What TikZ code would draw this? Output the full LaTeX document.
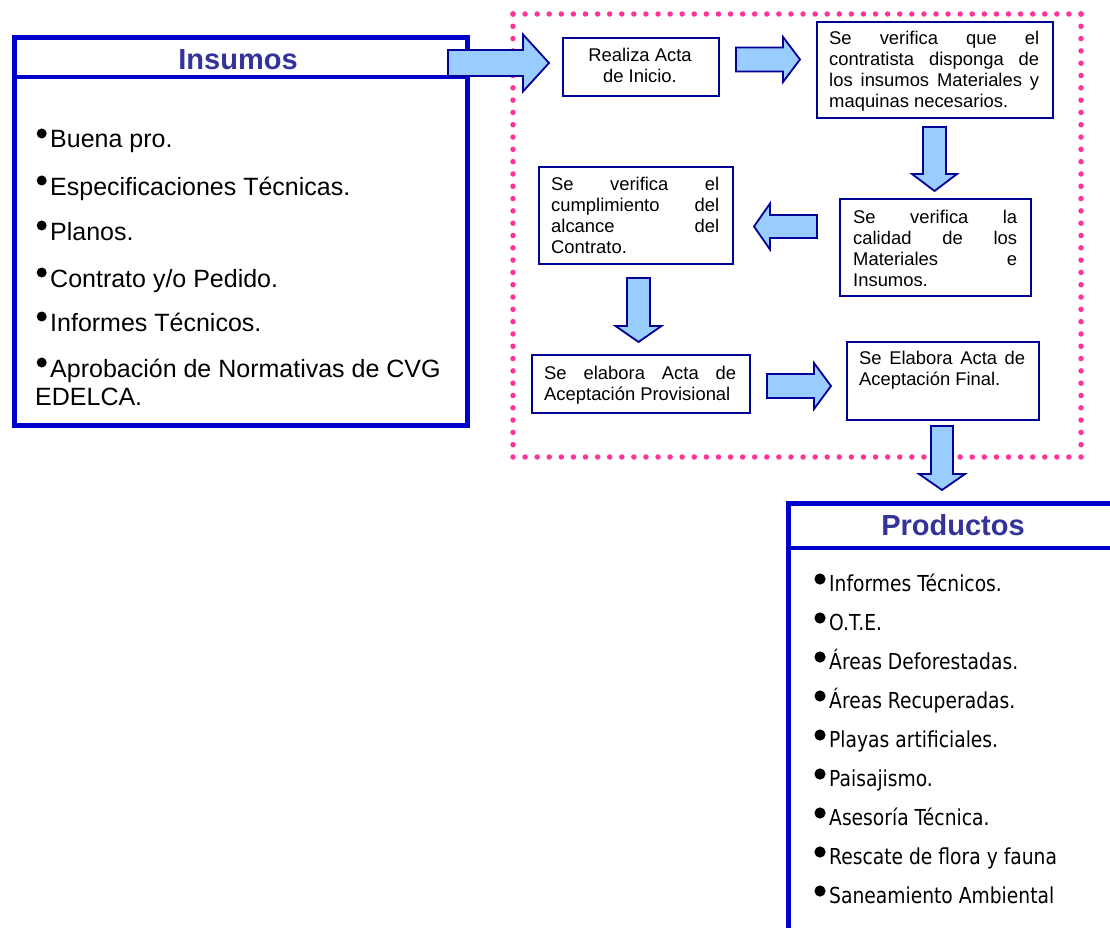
\documentclass[tikz,border=0pt]{standalone}
\usepackage{fontspec}
\setmainfont{Liberation Sans}
\newfontfamily\prodfont[FakeStretch=0.85]{DejaVu Sans}
\definecolor{navy}{RGB}{0,0,150}
\definecolor{bigblue}{RGB}{0,0,204}
\definecolor{titleblue}{RGB}{51,51,153}
\definecolor{arrowfill}{RGB}{153,204,255}
\definecolor{dotpink}{RGB}{255,51,153}
\newcommand\jline[2]{\makebox[#1][s]{#2}}
\newcommand\blkH[6]{\draw[blockarrow] (#1,#4-#5) -- (#2,#4-#5) -- (#2,#4-#6) -- (#3,#4) -- (#2,#4+#6) -- (#2,#4+#5) -- (#1,#4+#5) -- cycle;}
\newcommand\blkV[6]{\draw[blockarrow] (#4-#5,#1) -- (#4-#5,#2) -- (#4-#6,#2) -- (#4,#3) -- (#4+#6,#2) -- (#4+#5,#2) -- (#4+#5,#1) -- cycle;}
\begin{document}
\begin{tikzpicture}[x=1pt,y=-1pt,
  box/.style={draw=navy, line width=2pt, fill=white, inner sep=0pt, anchor=north west},
  bigframe/.style={draw=bigblue, line width=5pt, inner sep=0pt, anchor=north west},
  titletext/.style={font=\bfseries\fontsize{29}{34}\selectfont, text=titleblue, inner sep=0pt, anchor=base},
  initem/.style={font=\fontsize{25}{28}\selectfont, inner sep=0pt, anchor=base west},
  proditem/.style={font=\prodfont\fontsize{22}{26}\selectfont, inner sep=0pt, anchor=base west},
  ptext/.style={font=\fontsize{18.4}{21}\selectfont, inner sep=0pt, anchor=base west},
  blockarrow/.style={fill=arrowfill, draw=navy, line width=1.8pt, line join=miter},
  dotline/.style={draw=dotpink, line width=5.5pt, line cap=round},
  bul/.style={fill=black}
]
\useasboundingbox (0,0) rectangle (1110,928);
\begin{scope}
\clip (0,0) rectangle (1110,928);
\fill[white] (0,0) rectangle (1110,928);

% dotted frame
\coordinate (fa) at (513,14);
\coordinate (fb) at (1081,14);
\coordinate (fc) at (1081,457);
\coordinate (fd) at (513,457);
\draw[dotline, dash pattern=on 0pt off 12.085pt] (fa) -- (fb);
\draw[dotline, dash pattern=on 0pt off 12.085pt] (fd) -- (fc);
\draw[dotline, dash pattern=on 0pt off 12.306pt] (fa) -- (fd);
\draw[dotline, dash pattern=on 0pt off 12.306pt] (fb) -- (fc);

% process boxes
\node[box, minimum width=156pt, minimum height=58pt] (b1) at (562,37) {};
\node[box, minimum width=236pt, minimum height=96pt] (b2) at (816,21) {};
\node[box, minimum width=191pt, minimum height=97pt] (b3) at (839,198) {};
\node[box, minimum width=194pt, minimum height=97pt] (b4) at (538,166) {};
\node[box, minimum width=218pt, minimum height=58pt] (b5) at (531,354) {};
\node[box, minimum width=192pt, minimum height=78pt] (b6) at (846,341) {};

\node[ptext, anchor=base] (t1) at (640,62) {\begin{tabular}[t]{@{}c@{}}Realiza Acta\\de Inicio.\end{tabular}};
\node[ptext] (t2) at (829,45) {\begin{tabular}[t]{@{}l@{}}\jline{210pt}{Se verifica que el}\\\jline{210pt}{contratista disponga de}\\\jline{210pt}{los insumos Materiales y}\\maquinas necesarios.\end{tabular}};
\node[ptext] (t3) at (853,223) {\begin{tabular}[t]{@{}l@{}}\jline{164pt}{Se verifica la}\\\jline{164pt}{calidad de los}\\\jline{164pt}{Materiales e}\\Insumos.\end{tabular}};
\node[ptext] (t4) at (551,190) {\begin{tabular}[t]{@{}l@{}}\jline{168pt}{Se verifica el}\\\jline{168pt}{cumplimiento del}\\\jline{168pt}{alcance del}\\Contrato.\end{tabular}};
\node[ptext] (t5) at (544,379) {\begin{tabular}[t]{@{}l@{}}\jline{192pt}{Se elabora Acta de}\\Aceptación Provisional\end{tabular}};
\node[ptext] (t6) at (859,364) {\begin{tabular}[t]{@{}l@{}}\jline{166pt}{Se Elabora Acta de}\\Aceptación Final.\end{tabular}};

% Insumos box
\node[bigframe, minimum width=453pt, minimum height=387pt] (insbox) at (11.5,35.5) {};
\draw[draw=bigblue, line width=4pt] ([yshift=-41.5pt]insbox.north west) -- ([yshift=-41.5pt]insbox.north east);
\node[titletext] (institle) at (238,69.3) {Insumos};
\foreach \yy/\nm/\tx in {148/i1/{Buena pro.}, 195/i2/{Especificaciones Técnicas.}, 240/i3/{Planos.}, 287/i4/{Contrato y/o Pedido.}, 331/i5/{Informes Técnicos.}, 377/i6/{Aprobación de Normativas de CVG}}{
  \fill[bul] (41.7,\yy-14.5) circle (5pt);
  \node[initem] (\nm) at (50,\yy) {\tx};
}
\node[initem] (i7) at (35,405) {EDELCA.};

% Productos box
\node[bigframe, minimum width=340pt, minimum height=460pt] (prodbox) at (786,500.5) {};
\draw[draw=bigblue, line width=4pt] ([yshift=-47.5pt]prodbox.north west) -- ([yshift=-47.5pt]prodbox.north east);
\node[titletext] (prodtitle) at (953,535) {Productos};
\foreach \k/\tx in {0/{Informes Técnicos.}, 1/{O.T.E.}, 2/{Áreas Deforestadas.}, 3/{Áreas Recuperadas.}, 4/{Playas artificiales.}, 5/{Paisajismo.}, 6/{Asesoría Técnica.}, 7/{Rescate de flora y fauna}, 8/{Saneamiento Ambiental}}{
  \fill[bul] (820,591+39*\k-12) circle (5.6pt);
  \node[proditem] (p\k) at (829,591+39*\k) {\tx};
}

% block arrows
\blkH{448}{523}{549}{63}{13}{28.5}
\blkH{736}{783}{800}{59.5}{12}{22.5}
\blkV{127}{174}{191}{934.5}{11.5}{22.5}
\blkH{817}{770}{754}{226.5}{11.5}{23}
\blkV{278}{326}{342}{638.5}{11.5}{23}
\blkH{767}{814}{831}{386}{12}{23}
\blkV{426}{474}{490}{942}{11}{23}
\end{scope}
\end{tikzpicture}
\end{document}
